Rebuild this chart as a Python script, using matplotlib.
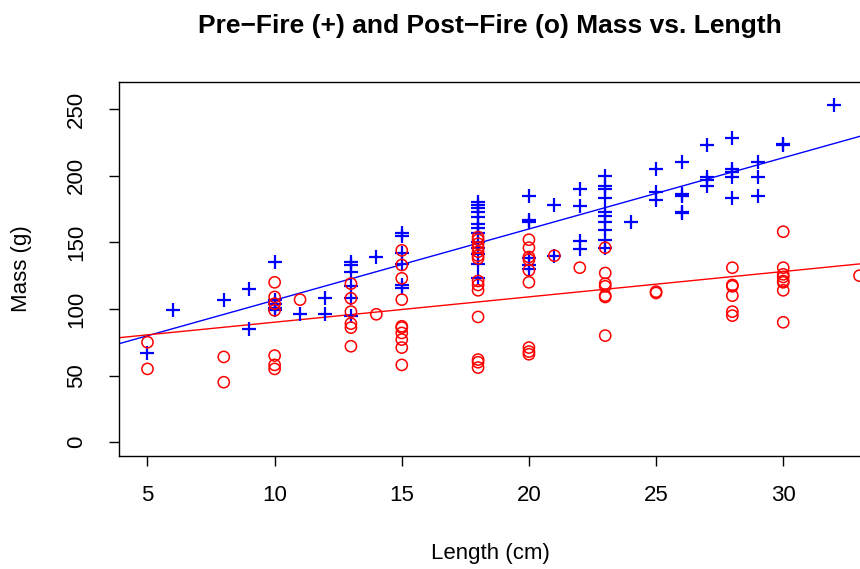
import numpy as np
import matplotlib
matplotlib.use("Agg")
import matplotlib.pyplot as plt

# pre-fire fish (blue +): length (cm) and mass (g)
pre_len = ([5, 6, 8, 9, 9] + [10] * 5 + [11, 12, 12] + [13] * 6 + [14] + [15] * 6
           + [18] * 13 + [20] * 6 + [21] * 2 + [22] * 4 + [23] * 10 + [24]
           + [25] * 3 + [26] * 5 + [27] * 4 + [28] * 5 + [29] * 3 + [30] * 2 + [32])
pre_mass = ([67, 99, 107, 115, 85]
            + [135, 107, 104, 101, 99]
            + [96, 108, 96]
            + [135, 133, 128, 117, 108, 95]
            + [139]
            + [157, 155, 142, 134, 118, 116]
            + [180, 178, 176, 173, 169, 164, 161, 157, 150, 146, 141, 134, 123]
            + [185, 167, 165, 138, 133, 130]
            + [178, 140]
            + [190, 177, 151, 145]
            + [200, 192, 190, 183, 173, 170, 165, 159, 152, 146]
            + [165]
            + [205, 188, 182]
            + [210, 186, 185, 173, 172]
            + [223, 199, 197, 192]
            + [228, 205, 203, 199, 183]
            + [210, 199, 185]
            + [224, 223]
            + [253])

# post-fire fish (red o)
post_len = ([5] * 2 + [8] * 2 + [10] * 7 + [11] + [13] * 6 + [14] + [15] * 10
            + [18] * 14 + [20] * 9 + [21, 22] + [23] * 7 + [25] * 2 + [28] * 6
            + [30] * 8 + [33])
post_mass = ([75, 55]
             + [64, 45]
             + [120, 109, 104, 99, 65, 58, 55]
             + [107]
             + [119, 108, 98, 89, 86, 72]
             + [96]
             + [144, 133, 123, 107, 87, 86, 82, 77, 71, 58]
             + [154, 152, 149, 146, 143, 140, 138, 121, 118, 114, 94, 62, 60, 56]
             + [152, 146, 139, 137, 129, 120, 71, 68, 66]
             + [140, 131]
             + [146, 127, 119, 117, 110, 109, 80]
             + [113, 112]
             + [131, 118, 117, 110, 98, 95]
             + [158, 131, 126, 124, 121, 120, 114, 90]
             + [125])

xticks = [5, 10, 15, 20, 25, 30]
yticks = [0, 50, 100, 150, 200, 250]

plt.rcParams['font.family'] = ['Liberation Sans', 'DejaVu Sans']

fig = plt.figure(figsize=(8.6, 5.69), dpi=100)
# plot region runs past the right edge, as in the cropped original
ax = fig.add_axes([119 / 860, 1 - 456 / 569, 769 / 860, 374 / 569])

ax.scatter(pre_len, pre_mass, marker='+', s=90, color='blue', linewidths=1.6, clip_on=False, zorder=3)
ax.scatter(post_len, post_mass, marker='o', s=65, facecolors='none', edgecolors='red',
           linewidths=1.1, clip_on=False, zorder=3)

xlim = (3.88, 34.12)
xs = np.array(xlim)
b_pre = np.polyfit(pre_len, pre_mass, 1)
b_post = np.polyfit(post_len, post_mass, 1)
ax.plot(xs, np.polyval(b_pre, xs), color='blue', lw=1)
ax.plot(xs, np.polyval(b_post, xs), color='red', lw=1)

ax.set_xlim(*xlim)
ax.set_ylim(-10.4, 270.4)
ax.set_xticks(xticks)
ax.set_yticks(yticks)
ax.set_yticklabels([str(v) for v in yticks], rotation=90, va='center')
ax.tick_params(direction='out', length=7, width=1, labelsize=16)
ax.tick_params(axis='x', pad=14)
ax.tick_params(axis='y', pad=16)
for sp in ax.spines.values():
    sp.set_linewidth(1)

fig.text(490 / 860, 1 - 26 / 569, 'Pre\u2212Fire (+) and Post\u2212Fire (o) Mass vs. Length',
         ha='center', va='center', fontsize=19, fontweight='bold')
fig.text(490 / 860, 1 - 554 / 569, 'Length (cm)', ha='center', va='center', fontsize=16)
fig.text(22 / 860, 1 - 269 / 569, 'Mass (g)', ha='center', va='center', rotation=90, fontsize=16)

fig.savefig('out.png', dpi=100)
